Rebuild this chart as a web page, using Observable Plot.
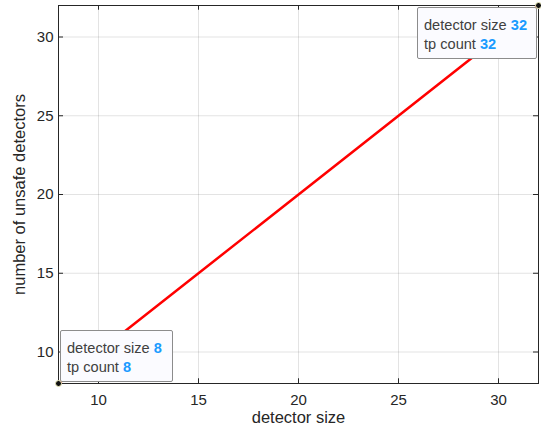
<!DOCTYPE html>
<html><head><meta charset="utf-8">
<script src="https://cdn.jsdelivr.net/npm/d3@7"></script>
<script src="https://cdn.jsdelivr.net/npm/@observablehq/plot@0.6"></script>
<style>body{margin:0;background:#fff;} svg{display:block;}</style>
</head><body><div id="chart"></div>
<script>
const detectorSize = [8, 32];
const tpCount = [8, 32];
const xTicks = [10, 15, 20, 25, 30];
const yTicks = [10, 15, 20, 25, 30];
const tips = [
  {x: 8, y: 8, place: "ne"},
  {x: 32, y: 32, place: "sw"}
];
const data = detectorSize.map((d, i) => ({x: d, y: tpCount[i]}));
const font = "Liberation Sans, Arial, Helvetica, sans-serif";
const axisColor = "#262626";

function datatips(index, scales) {
  const ns = "http://www.w3.org/2000/svg";
  const g = document.createElementNS(ns, "g");
  const H = 51;
  for (const t of tips) {
    const px = scales.x(t.x), py = scales.y(t.y);
    const w = t.place === "ne" ? 112 : 119;
    const x0 = t.place === "ne" ? px + 2 : px - 2 - w;
    const by = t.place === "ne" ? py - 2 - H : py + 2;
    const r = document.createElementNS(ns, "rect");
    r.setAttribute("x", x0 + 0.5); r.setAttribute("y", by + 0.5);
    r.setAttribute("width", w); r.setAttribute("height", H);
    r.setAttribute("fill", "#fbfbff"); r.setAttribute("stroke", "#8c8c8c");
    r.setAttribute("rx", 1.5);
    g.appendChild(r);
    const lines = [["detector size ", t.x], ["tp count ", t.y]];
    lines.forEach((ln, i) => {
      const tx = document.createElementNS(ns, "text");
      tx.setAttribute("x", x0 + 7);
      tx.setAttribute("y", by + 23 + i * 19);
      tx.setAttribute("font-family", font);
      tx.setAttribute("font-size", 14.6);
      tx.setAttribute("text-anchor", "start");
      tx.setAttribute("fill", "#404040");
      const s1 = document.createElementNS(ns, "tspan");
      s1.textContent = ln[0];
      const s2 = document.createElementNS(ns, "tspan");
      s2.textContent = ln[1];
      s2.setAttribute("fill", "#1a9bff");
      s2.setAttribute("font-weight", "bold");
      tx.appendChild(s1); tx.appendChild(s2);
      g.appendChild(tx);
    });
  }
  return g;
}

const chart = Plot.plot({
  width: 541, height: 433,
  marginLeft: 58, marginRight: 3, marginTop: 5, marginBottom: 50,
  style: {fontFamily: font, background: "#fff", overflow: "visible"},
  x: {domain: [8, 32]},
  y: {domain: [8, 32]},
  marks: [
    Plot.gridX(xTicks, {stroke: "#262626", strokeOpacity: 0.13}),
    Plot.gridY(yTicks, {stroke: "#262626", strokeOpacity: 0.13}),
    Plot.axisX(xTicks, {anchor: "bottom", tickSize: 0, tickPadding: 11, fontSize: 15, fill: axisColor, label: "detector size", labelAnchor: "center", labelArrow: "none", labelOffset: 39}),
    Plot.axisY(yTicks, {anchor: "left", tickSize: 0, tickPadding: 5, fontSize: 15, fill: axisColor, label: "number of unsafe detectors", labelAnchor: "center", labelArrow: "none", labelOffset: 45}),
    Plot.ruleX(xTicks, {x: d => d, y1: 8, y2: 8.3, stroke: axisColor, strokeWidth: 1}),
    Plot.ruleX(xTicks, {x: d => d, y1: 32, y2: 31.7, stroke: axisColor, strokeWidth: 1}),
    Plot.ruleY(yTicks, {y: d => d, x1: 8, x2: 8.25, stroke: axisColor, strokeWidth: 1}),
    Plot.ruleY(yTicks, {y: d => d, x1: 32, x2: 31.75, stroke: axisColor, strokeWidth: 1}),
    Plot.frame({stroke: axisColor, strokeWidth: 1}),
    Plot.line(data, {x: "x", y: "y", stroke: "#ff0000", strokeWidth: 2.5}),
    datatips,
    Plot.dot(tips, {x: "x", y: "y", r: 3, fill: "#111", stroke: "#f0efc0", strokeWidth: 1})
  ]
});
chart.querySelectorAll("g[aria-label='y-axis label'] text, g[aria-label='x-axis label'] text").forEach(t => { t.setAttribute("font-size", 16.5); t.setAttribute("fill", axisColor); });
document.getElementById("chart").appendChild(chart);
</script></body></html>
